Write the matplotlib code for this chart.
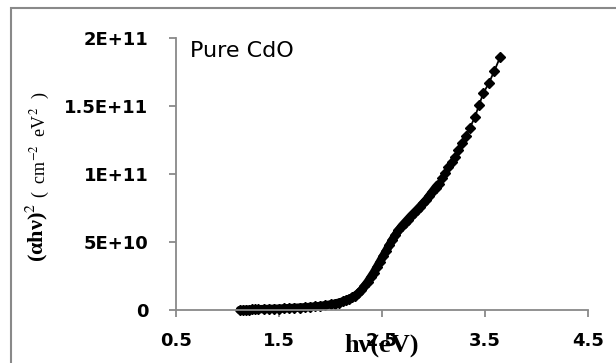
import matplotlib
matplotlib.use('Agg')
import matplotlib.pyplot as plt
from matplotlib.patches import Rectangle

plt.rcParams['mathtext.fontset'] = 'stix'

# photon energy hv (eV)
hv = [1.12, 1.15, 1.18, 1.21, 1.24, 1.27, 1.30, 1.35, 1.40, 1.45, 1.50, 1.55,
      1.60, 1.65, 1.70, 1.75, 1.80, 1.85, 1.90, 1.95, 2.00, 2.04, 2.08, 2.12,
      2.15, 2.18, 2.21, 2.24, 2.27, 2.30, 2.33, 2.36, 2.39, 2.42, 2.45, 2.48,
      2.51, 2.54, 2.57, 2.60, 2.63, 2.66, 2.69, 2.72, 2.75, 2.78, 2.81, 2.84,
      2.87, 2.90, 2.93, 2.96, 2.99, 3.02, 3.05,
      3.085, 3.112, 3.144, 3.177, 3.209, 3.241, 3.277, 3.316, 3.354, 3.403,
      3.442, 3.483, 3.539, 3.590, 3.646]
# (alpha h nu)^2 in units of 1e9
ahv2 = [0.0, 0.1, 0.2, 0.3, 0.4, 0.5, 0.6, 0.7, 0.8, 0.9, 1.0, 1.2,
        1.4, 1.6, 1.8, 2.0, 2.3, 2.6, 3.0, 3.5, 4.1, 4.7, 5.4, 6.3,
        7.2, 8.2, 9.2, 10.5, 12.3, 14.5, 17.5, 20.5, 24.0, 27.5, 31.5, 35.5,
        39.5, 43.5, 47.5, 51.5, 55.0, 58.5, 61.5, 64.0, 66.5, 69.0, 71.3, 73.6,
        76.0, 78.5, 81.0, 84.0, 87.0, 90.0, 92.5,
        96.8, 101.0, 105.4, 109.0, 112.7, 117.6, 122.6, 127.9, 134.0, 142.1,
        150.7, 159.3, 167.1, 175.7, 185.8]
ahv2 = [v * 1e9 for v in ahv2]
n_dense = 55  # below ~3.05 eV the measured points are packed into a solid band

xticks = [0.5, 1.5, 2.5, 3.5, 4.5]
yticks = [0, 5e10, 1e11, 1.5e11, 2e11]
ylabels = ['0', '5E+10', '1E+11', '1.5E+11', '2E+11']

W, H = 616, 363
fig = plt.figure(figsize=(W / 100, H / 100), dpi=100)
ax = fig.add_axes([176 / W, 1 - 310 / H, (588 - 176) / W, (310 - 38) / H])

gray = '#898989'
ax.plot(hv, ahv2, '-', color='black', lw=1.3, marker='D', ms=5,
        mfc='black', mec='black', clip_on=False)
ax.plot(hv[:n_dense], ahv2[:n_dense], '-', color='black', lw=6,
        solid_capstyle='round', solid_joinstyle='round', clip_on=False)

ax.set_xlim(0.5, 4.5)
ax.set_ylim(0, 2e11)
ax.set_xticks(xticks)
ax.set_xticklabels([str(t) for t in xticks])
ax.set_yticks(yticks)
ax.set_yticklabels(ylabels)

for s in ['top', 'right']:
    ax.spines[s].set_visible(False)
for s in ['left', 'bottom']:
    ax.spines[s].set_color(gray)
    ax.spines[s].set_linewidth(1.3)
ax.tick_params(axis='both', direction='out', length=5, width=1.3, color=gray)
ax.tick_params(axis='y', pad=15)
ax.tick_params(axis='x', pad=11)
for lab in ax.get_xticklabels() + ax.get_yticklabels():
    lab.set_fontfamily('DejaVu Sans')
    lab.set_fontweight('bold')
    lab.set_fontsize(13)

ax.text(0.034, 0.952, 'Pure CdO', transform=ax.transAxes, fontsize=16,
        family='DejaVu Sans', va='center', ha='left')

# axis titles
fig.text(382 / W, 1 - 345 / H, 'hν(eV)', family='Liberation Serif',
         fontweight='bold', fontsize=19, ha='center', va='center')
fig.text(37 / W, 1 - 262 / H, '(αhν)$^{2}$', family='Liberation Serif',
         fontweight='bold', fontsize=16, rotation=90, ha='center', va='bottom')
fig.text(40 / W, 1 - 198 / H, '(  cm$^{-2}$  eV$^{2}$  )', family='Liberation Serif',
         fontsize=13, rotation=90, ha='center', va='bottom')

# outer chart border
fig.patches.append(Rectangle((11 / W, -0.5), 2, 1.5 - 8 / H, transform=fig.transFigure,
                             fill=False, edgecolor=gray, lw=1.5))

fig.savefig('out.png', dpi=100)
